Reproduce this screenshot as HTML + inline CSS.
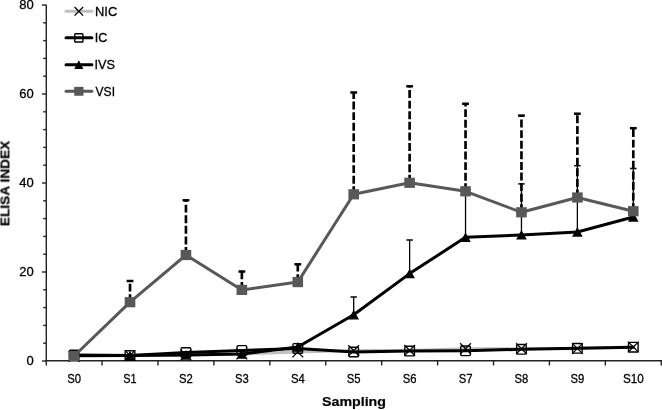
<!DOCTYPE html>
<html><head><meta charset="utf-8"><style>
html,body{margin:0;padding:0;background:#fff;}
body{width:662px;height:410px;overflow:hidden;}
svg{display:block;} text{will-change:transform;}
.t{font-family:"Liberation Sans",sans-serif;font-size:13px;fill:#000;stroke:#000;stroke-width:0.3px;}
.b{font-family:"Liberation Sans",sans-serif;font-size:13.2px;font-weight:bold;fill:#000;stroke:#000;stroke-width:0.2px;}
</style></head><body>
<svg width="662" height="410" viewBox="0 0 662 410">
<line x1="46.3" y1="4.7" x2="46.3" y2="365.6" stroke="#222222" stroke-width="1.4"/>
<line x1="45.5" y1="360.8" x2="662" y2="360.8" stroke="#222222" stroke-width="1.4"/>
<line x1="42" y1="361.00" x2="46.3" y2="361.00" stroke="#222222" stroke-width="1.4"/>
<line x1="43.2" y1="343.20" x2="46.3" y2="343.20" stroke="#222222" stroke-width="1.4"/>
<line x1="43.2" y1="325.40" x2="46.3" y2="325.40" stroke="#222222" stroke-width="1.4"/>
<line x1="43.2" y1="307.60" x2="46.3" y2="307.60" stroke="#222222" stroke-width="1.4"/>
<line x1="43.2" y1="289.80" x2="46.3" y2="289.80" stroke="#222222" stroke-width="1.4"/>
<line x1="42" y1="272.00" x2="46.3" y2="272.00" stroke="#222222" stroke-width="1.4"/>
<line x1="43.2" y1="254.20" x2="46.3" y2="254.20" stroke="#222222" stroke-width="1.4"/>
<line x1="43.2" y1="236.40" x2="46.3" y2="236.40" stroke="#222222" stroke-width="1.4"/>
<line x1="43.2" y1="218.60" x2="46.3" y2="218.60" stroke="#222222" stroke-width="1.4"/>
<line x1="43.2" y1="200.80" x2="46.3" y2="200.80" stroke="#222222" stroke-width="1.4"/>
<line x1="42" y1="183.00" x2="46.3" y2="183.00" stroke="#222222" stroke-width="1.4"/>
<line x1="43.2" y1="165.20" x2="46.3" y2="165.20" stroke="#222222" stroke-width="1.4"/>
<line x1="43.2" y1="147.40" x2="46.3" y2="147.40" stroke="#222222" stroke-width="1.4"/>
<line x1="43.2" y1="129.60" x2="46.3" y2="129.60" stroke="#222222" stroke-width="1.4"/>
<line x1="43.2" y1="111.80" x2="46.3" y2="111.80" stroke="#222222" stroke-width="1.4"/>
<line x1="42" y1="94.00" x2="46.3" y2="94.00" stroke="#222222" stroke-width="1.4"/>
<line x1="43.2" y1="76.20" x2="46.3" y2="76.20" stroke="#222222" stroke-width="1.4"/>
<line x1="43.2" y1="58.40" x2="46.3" y2="58.40" stroke="#222222" stroke-width="1.4"/>
<line x1="43.2" y1="40.60" x2="46.3" y2="40.60" stroke="#222222" stroke-width="1.4"/>
<line x1="43.2" y1="22.80" x2="46.3" y2="22.80" stroke="#222222" stroke-width="1.4"/>
<line x1="42" y1="5.00" x2="46.3" y2="5.00" stroke="#222222" stroke-width="1.4"/>
<line x1="102.06" y1="360.8" x2="102.06" y2="365.5" stroke="#222222" stroke-width="1.4"/>
<line x1="157.98" y1="360.8" x2="157.98" y2="365.5" stroke="#222222" stroke-width="1.4"/>
<line x1="213.90" y1="360.8" x2="213.90" y2="365.5" stroke="#222222" stroke-width="1.4"/>
<line x1="269.82" y1="360.8" x2="269.82" y2="365.5" stroke="#222222" stroke-width="1.4"/>
<line x1="325.74" y1="360.8" x2="325.74" y2="365.5" stroke="#222222" stroke-width="1.4"/>
<line x1="381.66" y1="360.8" x2="381.66" y2="365.5" stroke="#222222" stroke-width="1.4"/>
<line x1="437.58" y1="360.8" x2="437.58" y2="365.5" stroke="#222222" stroke-width="1.4"/>
<line x1="493.50" y1="360.8" x2="493.50" y2="365.5" stroke="#222222" stroke-width="1.4"/>
<line x1="549.42" y1="360.8" x2="549.42" y2="365.5" stroke="#222222" stroke-width="1.4"/>
<line x1="605.34" y1="360.8" x2="605.34" y2="365.5" stroke="#222222" stroke-width="1.4"/>
<line x1="661.26" y1="360.8" x2="661.26" y2="365.5" stroke="#222222" stroke-width="1.4"/>
<text x="33.7" y="365.30" text-anchor="end" class="t">0</text>
<text x="33.7" y="276.30" text-anchor="end" class="t">20</text>
<text x="33.7" y="187.30" text-anchor="end" class="t">40</text>
<text x="33.7" y="98.30" text-anchor="end" class="t">60</text>
<text x="33.7" y="9.30" text-anchor="end" class="t">80</text>
<text x="74.10" y="383.1" text-anchor="middle" class="t" textLength="13.8" lengthAdjust="spacingAndGlyphs">S0</text>
<text x="130.02" y="383.1" text-anchor="middle" class="t" textLength="13.3" lengthAdjust="spacingAndGlyphs">S1</text>
<text x="185.94" y="383.1" text-anchor="middle" class="t" textLength="13.8" lengthAdjust="spacingAndGlyphs">S2</text>
<text x="241.86" y="383.1" text-anchor="middle" class="t" textLength="13.8" lengthAdjust="spacingAndGlyphs">S3</text>
<text x="297.78" y="383.1" text-anchor="middle" class="t" textLength="13.8" lengthAdjust="spacingAndGlyphs">S4</text>
<text x="353.70" y="383.1" text-anchor="middle" class="t" textLength="13.8" lengthAdjust="spacingAndGlyphs">S5</text>
<text x="409.62" y="383.1" text-anchor="middle" class="t" textLength="13.8" lengthAdjust="spacingAndGlyphs">S6</text>
<text x="465.54" y="383.1" text-anchor="middle" class="t" textLength="13.8" lengthAdjust="spacingAndGlyphs">S7</text>
<text x="521.46" y="383.1" text-anchor="middle" class="t" textLength="13.8" lengthAdjust="spacingAndGlyphs">S8</text>
<text x="577.38" y="383.1" text-anchor="middle" class="t" textLength="13.8" lengthAdjust="spacingAndGlyphs">S9</text>
<text x="633.30" y="383.1" text-anchor="middle" class="t" textLength="20.8" lengthAdjust="spacingAndGlyphs">S10</text>
<text x="354.0" y="406.3" text-anchor="middle" class="b" textLength="63.9" lengthAdjust="spacingAndGlyphs">Sampling</text>
<text transform="translate(9.45,183.45) rotate(-90)" x="0" y="0" text-anchor="middle" class="b" style="font-size:12.6px" textLength="85.5" lengthAdjust="spacingAndGlyphs">ELISA INDEX</text>
<line x1="353.70" y1="314.70" x2="353.70" y2="297.00" stroke="#000" stroke-width="1.3"/>
<line x1="350.50" y1="297.00" x2="356.90" y2="297.00" stroke="#000" stroke-width="1.5"/>
<line x1="409.62" y1="273.60" x2="409.62" y2="240.00" stroke="#000" stroke-width="1.3"/>
<line x1="406.42" y1="240.00" x2="412.82" y2="240.00" stroke="#000" stroke-width="1.5"/>
<line x1="465.54" y1="237.30" x2="465.54" y2="192.00" stroke="#000" stroke-width="1.3"/>
<line x1="462.34" y1="192.00" x2="468.74" y2="192.00" stroke="#000" stroke-width="1.5"/>
<line x1="521.46" y1="234.90" x2="521.46" y2="183.90" stroke="#000" stroke-width="1.3"/>
<line x1="518.26" y1="183.90" x2="524.66" y2="183.90" stroke="#000" stroke-width="1.5"/>
<line x1="577.38" y1="232.00" x2="577.38" y2="165.70" stroke="#000" stroke-width="1.3"/>
<line x1="574.18" y1="165.70" x2="580.58" y2="165.70" stroke="#000" stroke-width="1.5"/>
<line x1="633.30" y1="217.00" x2="633.30" y2="168.50" stroke="#000" stroke-width="1.3"/>
<line x1="630.10" y1="168.50" x2="636.50" y2="168.50" stroke="#000" stroke-width="1.5"/>
<polyline points="74.10,356.50 130.02,355.50 185.94,355.00 241.86,354.00 297.78,352.00 353.70,350.60 409.62,350.40 465.54,348.70 521.46,348.70 577.38,348.50 633.30,347.00" fill="none" stroke="#c0c0c0" stroke-width="3.0" stroke-linejoin="round" stroke-linecap="round"/>
<path d="M68.70,351.10L79.50,361.90M79.50,351.10L68.70,361.90" stroke="#000" stroke-width="1.3" fill="none"/>
<path d="M124.62,350.10L135.42,360.90M135.42,350.10L124.62,360.90" stroke="#000" stroke-width="1.3" fill="none"/>
<path d="M180.54,349.60L191.34,360.40M191.34,349.60L180.54,360.40" stroke="#000" stroke-width="1.3" fill="none"/>
<path d="M236.46,348.60L247.26,359.40M247.26,348.60L236.46,359.40" stroke="#000" stroke-width="1.3" fill="none"/>
<path d="M292.38,346.60L303.18,357.40M303.18,346.60L292.38,357.40" stroke="#000" stroke-width="1.3" fill="none"/>
<path d="M348.30,345.20L359.10,356.00M359.10,345.20L348.30,356.00" stroke="#000" stroke-width="1.3" fill="none"/>
<path d="M404.22,345.00L415.02,355.80M415.02,345.00L404.22,355.80" stroke="#000" stroke-width="1.3" fill="none"/>
<path d="M460.14,343.30L470.94,354.10M470.94,343.30L460.14,354.10" stroke="#000" stroke-width="1.3" fill="none"/>
<path d="M516.06,343.30L526.86,354.10M526.86,343.30L516.06,354.10" stroke="#000" stroke-width="1.3" fill="none"/>
<path d="M571.98,343.10L582.78,353.90M582.78,343.10L571.98,353.90" stroke="#000" stroke-width="1.3" fill="none"/>
<path d="M627.90,341.60L638.70,352.40M638.70,341.60L627.90,352.40" stroke="#000" stroke-width="1.3" fill="none"/>
<polyline points="74.10,355.00 130.02,355.50 185.94,352.60 241.86,350.40 297.78,348.40 353.70,352.00 409.62,351.10 465.54,350.80 521.46,349.30 577.38,348.30 633.30,347.20" fill="none" stroke="#000" stroke-width="3.0" stroke-linejoin="round" stroke-linecap="round"/>
<rect x="69.30" y="350.20" width="9.60" height="9.60" rx="1" fill="none" stroke="#000" stroke-width="1.4"/>
<rect x="125.22" y="350.70" width="9.60" height="9.60" rx="1" fill="none" stroke="#000" stroke-width="1.4"/>
<rect x="181.14" y="347.80" width="9.60" height="9.60" rx="1" fill="none" stroke="#000" stroke-width="1.4"/>
<rect x="237.06" y="345.60" width="9.60" height="9.60" rx="1" fill="none" stroke="#000" stroke-width="1.4"/>
<rect x="292.98" y="343.60" width="9.60" height="9.60" rx="1" fill="none" stroke="#000" stroke-width="1.4"/>
<rect x="348.90" y="347.20" width="9.60" height="9.60" rx="1" fill="none" stroke="#000" stroke-width="1.4"/>
<rect x="404.82" y="346.30" width="9.60" height="9.60" rx="1" fill="none" stroke="#000" stroke-width="1.4"/>
<rect x="460.74" y="346.00" width="9.60" height="9.60" rx="1" fill="none" stroke="#000" stroke-width="1.4"/>
<rect x="516.66" y="344.50" width="9.60" height="9.60" rx="1" fill="none" stroke="#000" stroke-width="1.4"/>
<rect x="572.58" y="343.50" width="9.60" height="9.60" rx="1" fill="none" stroke="#000" stroke-width="1.4"/>
<rect x="628.50" y="342.40" width="9.60" height="9.60" rx="1" fill="none" stroke="#000" stroke-width="1.4"/>
<polyline points="74.10,355.40 130.02,355.60 185.94,355.00 241.86,354.10 297.78,347.00 353.70,314.70 409.62,273.60 465.54,237.30 521.46,234.90 577.38,232.00 633.30,217.00" fill="none" stroke="#000" stroke-width="3.0" stroke-linejoin="round" stroke-linecap="round"/>
<path d="M74.10,350.50L79.40,360.10L68.80,360.10Z" fill="#000"/>
<path d="M130.02,350.70L135.32,360.30L124.72,360.30Z" fill="#000"/>
<path d="M185.94,350.10L191.24,359.70L180.64,359.70Z" fill="#000"/>
<path d="M241.86,349.20L247.16,358.80L236.56,358.80Z" fill="#000"/>
<path d="M297.78,342.10L303.08,351.70L292.48,351.70Z" fill="#000"/>
<path d="M353.70,309.80L359.00,319.40L348.40,319.40Z" fill="#000"/>
<path d="M409.62,268.70L414.92,278.30L404.32,278.30Z" fill="#000"/>
<path d="M465.54,232.40L470.84,242.00L460.24,242.00Z" fill="#000"/>
<path d="M521.46,230.00L526.76,239.60L516.16,239.60Z" fill="#000"/>
<path d="M577.38,227.10L582.68,236.70L572.08,236.70Z" fill="#000"/>
<path d="M633.30,212.10L638.60,221.70L628.00,221.70Z" fill="#000"/>
<line x1="130.02" y1="302.20" x2="130.02" y2="281.00" stroke="#000" stroke-width="2.65" stroke-dasharray="7.95 2.65"/>
<line x1="126.62" y1="281.00" x2="133.42" y2="281.00" stroke="#000" stroke-width="2.5"/>
<line x1="185.94" y1="255.00" x2="185.94" y2="200.30" stroke="#000" stroke-width="2.65" stroke-dasharray="7.95 2.65"/>
<line x1="182.54" y1="200.30" x2="189.34" y2="200.30" stroke="#000" stroke-width="2.5"/>
<line x1="241.86" y1="289.90" x2="241.86" y2="271.50" stroke="#000" stroke-width="2.65" stroke-dasharray="7.95 2.65"/>
<line x1="238.46" y1="271.50" x2="245.26" y2="271.50" stroke="#000" stroke-width="2.5"/>
<line x1="297.78" y1="282.10" x2="297.78" y2="264.30" stroke="#000" stroke-width="2.65" stroke-dasharray="7.95 2.65"/>
<line x1="294.38" y1="264.30" x2="301.18" y2="264.30" stroke="#000" stroke-width="2.5"/>
<line x1="353.70" y1="194.30" x2="353.70" y2="92.50" stroke="#000" stroke-width="2.65" stroke-dasharray="7.95 2.65"/>
<line x1="350.30" y1="92.50" x2="357.10" y2="92.50" stroke="#000" stroke-width="2.5"/>
<line x1="409.62" y1="182.80" x2="409.62" y2="86.30" stroke="#000" stroke-width="2.65" stroke-dasharray="7.95 2.65"/>
<line x1="406.22" y1="86.30" x2="413.02" y2="86.30" stroke="#000" stroke-width="2.5"/>
<line x1="465.54" y1="191.30" x2="465.54" y2="103.75" stroke="#000" stroke-width="2.65" stroke-dasharray="7.95 2.65"/>
<line x1="462.14" y1="103.75" x2="468.94" y2="103.75" stroke="#000" stroke-width="2.5"/>
<line x1="521.46" y1="212.30" x2="521.46" y2="115.60" stroke="#000" stroke-width="2.65" stroke-dasharray="7.95 2.65"/>
<line x1="518.06" y1="115.60" x2="524.86" y2="115.60" stroke="#000" stroke-width="2.5"/>
<line x1="577.38" y1="197.50" x2="577.38" y2="113.70" stroke="#000" stroke-width="2.65" stroke-dasharray="7.95 2.65"/>
<line x1="573.98" y1="113.70" x2="580.78" y2="113.70" stroke="#000" stroke-width="2.5"/>
<line x1="633.30" y1="211.20" x2="633.30" y2="128.20" stroke="#000" stroke-width="2.65" stroke-dasharray="7.95 2.65"/>
<line x1="629.90" y1="128.20" x2="636.70" y2="128.20" stroke="#000" stroke-width="2.5"/>
<polyline points="74.10,356.00 130.02,302.20 185.94,255.00 241.86,289.90 297.78,282.10 353.70,194.30 409.62,182.80 465.54,191.30 521.46,212.30 577.38,197.50 633.30,211.20" fill="none" stroke="#585858" stroke-width="3.0" stroke-linejoin="round" stroke-linecap="round"/>
<rect x="68.80" y="350.90" width="10.60" height="10.20" fill="#585858"/>
<rect x="124.72" y="297.10" width="10.60" height="10.20" fill="#585858"/>
<rect x="180.64" y="249.90" width="10.60" height="10.20" fill="#585858"/>
<rect x="236.56" y="284.80" width="10.60" height="10.20" fill="#585858"/>
<rect x="292.48" y="277.00" width="10.60" height="10.20" fill="#585858"/>
<rect x="348.40" y="189.20" width="10.60" height="10.20" fill="#585858"/>
<rect x="404.32" y="177.70" width="10.60" height="10.20" fill="#585858"/>
<rect x="460.24" y="186.20" width="10.60" height="10.20" fill="#585858"/>
<rect x="516.16" y="207.20" width="10.60" height="10.20" fill="#585858"/>
<rect x="572.08" y="192.40" width="10.60" height="10.20" fill="#585858"/>
<rect x="628.00" y="206.10" width="10.60" height="10.20" fill="#585858"/>
<line x1="66.0" y1="11.35" x2="91.89999999999999" y2="11.35" stroke="#c0c0c0" stroke-width="3.0" stroke-linecap="round"/>
<path d="M74.55,7.05L83.15,15.65M83.15,7.05L74.55,15.65" stroke="#000" stroke-width="1.3" fill="none"/>
<text x="95.0" y="15.60" class="t" textLength="22.2" lengthAdjust="spacingAndGlyphs">NIC</text>
<line x1="66.0" y1="37.85" x2="91.89999999999999" y2="37.85" stroke="#000" stroke-width="3.0" stroke-linecap="round"/>
<rect x="74.75" y="33.75" width="8.20" height="8.20" rx="0.8" fill="none" stroke="#000" stroke-width="1.4"/>
<text x="94.85" y="42.00" class="t" textLength="12.6" lengthAdjust="spacingAndGlyphs">IC</text>
<line x1="66.0" y1="64.75" x2="91.89999999999999" y2="64.75" stroke="#000" stroke-width="3.0" stroke-linecap="round"/>
<path d="M78.85,60.15L83.45,69.05L74.25,69.05Z" fill="#000"/>
<text x="94.4" y="68.70" class="t" textLength="20.5" lengthAdjust="spacingAndGlyphs">IVS</text>
<line x1="66.0" y1="91.3" x2="91.89999999999999" y2="91.3" stroke="#585858" stroke-width="3.0" stroke-linecap="round"/>
<rect x="74.20" y="86.85" width="9.30" height="8.90" fill="#585858"/>
<text x="95.5" y="95.50" class="t" textLength="19.5" lengthAdjust="spacingAndGlyphs">VSI</text>
</svg>
</body></html>
